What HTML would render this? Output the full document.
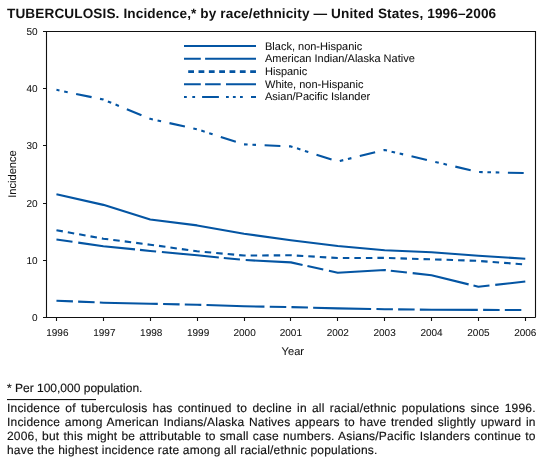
<!DOCTYPE html>
<html><head><meta charset="utf-8"><style>
html,body{margin:0;padding:0;background:#fff;width:547px;height:471px;overflow:hidden;position:relative;text-rendering:geometricPrecision}
svg text{text-rendering:geometricPrecision;stroke:#111;stroke-width:0.06px}
.t{will-change:transform;position:absolute;left:6.8px;top:5.8px;font:bold 13.6px "Liberation Sans",sans-serif;letter-spacing:0.115px;color:#111;white-space:nowrap}
.fn{-webkit-text-stroke:0.15px #111;will-change:transform;position:absolute;left:7px;top:380.5px;font:12px "Liberation Sans",sans-serif;color:#111;white-space:nowrap}
.p{-webkit-text-stroke:0.15px #111;will-change:transform;position:absolute;left:7px;top:401px;width:528.7px;font:12px/14px "Liberation Sans",sans-serif;letter-spacing:0.2px;color:#111}
.l{text-align:justify;text-align-last:justify;white-space:nowrap;height:14px}
.l.last{text-align-last:left}
</style></head><body>
<svg width="547" height="471" viewBox="0 0 547 471" style="position:absolute;left:0;top:0;will-change:transform">
<g font-family="Liberation Sans, sans-serif" font-size="10" fill="#111">
<path d="M46.5 31 V317.5 M43 31.5 H535.5 V317.5 M43 317.5 H535.5" fill="none" stroke="#111" stroke-width="1.1"/>
<path d="M43 260.50 H46.5 M43 203.50 H46.5 M43 145.50 H46.5 M43 88.50 H46.5 M56.50 317.5 V321 M103.50 317.5 V321 M150.50 317.5 V321 M197.50 317.5 V321 M244.50 317.5 V321 M290.50 317.5 V321 M337.50 317.5 V321 M384.50 317.5 V321 M431.50 317.5 V321 M478.50 317.5 V321 M525.50 317.5 V321" fill="none" stroke="#111" stroke-width="1.1"/>
<text x="37.6" y="321.00" text-anchor="end">0</text>
<text x="37.6" y="264.00" text-anchor="end">10</text>
<text x="37.6" y="206.50" text-anchor="end">20</text>
<text x="37.6" y="149.00" text-anchor="end">30</text>
<text x="37.6" y="92.00" text-anchor="end">40</text>
<text x="37.6" y="35.00" text-anchor="end">50</text>
<text x="57.35" y="336" text-anchor="middle">1996</text>
<text x="104.34" y="336" text-anchor="middle">1997</text>
<text x="151.22" y="336" text-anchor="middle">1998</text>
<text x="198.11" y="336" text-anchor="middle">1999</text>
<text x="244.59" y="336" text-anchor="middle">2000</text>
<text x="290.88" y="336" text-anchor="middle">2001</text>
<text x="337.76" y="336" text-anchor="middle">2002</text>
<text x="384.64" y="336" text-anchor="middle">2003</text>
<text x="431.53" y="336" text-anchor="middle">2004</text>
<text x="478.41" y="336" text-anchor="middle">2005</text>
<text x="525.30" y="336" text-anchor="middle">2006</text>
</g>
<text x="0" y="0" transform="translate(15.8 174) rotate(-90)" text-anchor="middle" font-family="Liberation Sans, sans-serif" font-size="11.1" fill="#111">Incidence</text>
<text x="292.8" y="354.5" text-anchor="middle" font-family="Liberation Sans, sans-serif" font-size="11.1" fill="#111">Year</text>
<g font-family="Liberation Sans, sans-serif" font-size="11" fill="#111">
<path d="M184 46.00 H256" stroke="#0455a3" stroke-width="2.1" stroke-dasharray="none" stroke-dashoffset="0"/>
<text x="265" y="49.80">Black, non-Hispanic</text>
<path d="M184 58.75 H256" stroke="#0455a3" stroke-width="2.1" stroke-dasharray="16.8 4.3 100" stroke-dashoffset="0"/>
<text x="265" y="62.40">American Indian/Alaska Native</text>
<path d="M184 71.60 H256" stroke="#0455a3" stroke-width="2.8" stroke-dasharray="5.8 4.53" stroke-dashoffset="-4.2"/>
<text x="265" y="75.00">Hispanic</text>
<path d="M184 84.25 H256" stroke="#0455a3" stroke-width="2.1" stroke-dasharray="16.8 4.3 15.6 5.3 100" stroke-dashoffset="0"/>
<text x="265" y="87.60">White, non-Hispanic</text>
<path d="M184 97.00 H256" stroke="#0455a3" stroke-width="2.1" stroke-dasharray="16.8 7.0 2.8 5.5 2.8 7.0 16.8 7.1 2.8 4.1 2.8 4.3 2.8 8.2" stroke-dashoffset="23.8"/>
<text x="265" y="100.20">Asian/Pacific Islander</text>
</g>
<polyline points="56.45,300.68 103.34,302.69 150.22,303.77 197.11,304.69 243.99,306.29 290.88,307.09 337.76,308.35 384.64,309.21 431.53,309.72 478.41,309.89 525.30,310.06" fill="none" stroke="#0455a3" stroke-width="2.1" stroke-dasharray="16.5 5.2 16.5 5.2 58 5.3" stroke-dashoffset="0" stroke-linejoin="round"/>
<polyline points="56.45,239.48 103.34,246.17 150.22,250.92 197.11,255.32 243.99,259.96 290.88,262.36 337.76,272.71 384.64,270.02 431.53,275.23 478.41,286.78 525.30,281.52" fill="none" stroke="#0455a3" stroke-width="2.1" stroke-dasharray="16.2 5.8 57.2 5" stroke-dashoffset="0" stroke-linejoin="round"/>
<polyline points="56.45,230.21 103.34,238.68 150.22,244.68 197.11,251.26 243.99,255.55 290.88,255.27 337.76,258.01 384.64,257.90 431.53,259.33 478.41,260.87 525.30,264.48" fill="none" stroke="#0455a3" stroke-width="2.1" stroke-dasharray="6.5 5.03" stroke-dashoffset="0" stroke-linejoin="round"/>
<polyline points="56.45,194.23 103.34,204.87 150.22,219.57 197.11,225.41 243.99,233.70 290.88,240.28 337.76,246.00 384.64,250.23 431.53,252.18 478.41,255.72 525.30,258.70" fill="none" stroke="#0455a3" stroke-width="2.1" stroke-dasharray="none" stroke-dashoffset="0" stroke-linejoin="round"/>
<polyline points="56.45,89.84 103.34,99.57 150.22,118.84 197.11,129.25 243.99,144.36 290.88,146.41 337.76,161.46 384.64,150.02 431.53,161.06 478.41,172.04 525.30,173.07" fill="none" stroke="#0455a3" stroke-width="2.1" stroke-dasharray="15.8 8.6 3.6 4.8 3.6 8.6 15.8 8.6 3.6 4.7 3.6 4.7 3.6 8.6" stroke-dashoffset="24.9" stroke-linejoin="round"/>
<rect x="7" y="399" width="89" height="1.1" fill="#111"/>
</svg>
<div class="t">TUBERCULOSIS. Incidence,* by race/ethnicity — United States, 1996–2006</div>
<div class="fn">* Per 100,000 population.</div>
<div class="p"><div class="l">Incidence of tuberculosis has continued to decline in all racial/ethnic populations since 1996.</div><div class="l">Incidence among American Indians/Alaska Natives appears to have trended slightly upward in</div><div class="l">2006, but this might be attributable to small case numbers. Asians/Pacific Islanders continue to</div><div class="l last">have the highest incidence rate among all racial/ethnic populations.</div></div>
</body></html>
